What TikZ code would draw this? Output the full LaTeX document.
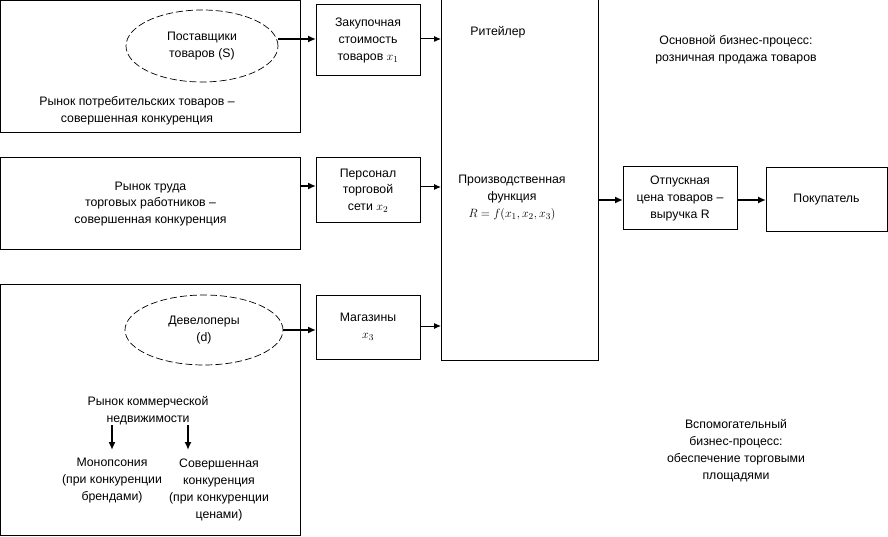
\documentclass[tikz,border=0pt]{standalone}
\usepackage{fontspec}
\setmainfont{Liberation Sans}
\usetikzlibrary{arrows.meta,shapes.geometric}
\begin{document}
\begin{tikzpicture}[x=1pt,y=-1pt,
  every node/.style={font=\fontsize{12.3}{16.8}\selectfont, align=center, inner sep=0pt, outer sep=0pt},
  box/.style={draw, line width=1pt, rectangle},
  ell/.style={draw, dash pattern=on 7pt off 3pt, line width=0.7pt, ellipse},
  thin arrow/.style={-{Latex[length=7pt,width=6pt]}, line width=1pt},
  thick arrow/.style={-{Latex[length=8pt,width=7pt]}, line width=2.2pt}]
\useasboundingbox (0,0) rectangle (888,537);
% left market boxes
\node[box, minimum width=300pt, minimum height=132pt] (m1) at (150.5,66.5) {};
\node[box, minimum width=300pt, minimum height=92pt] (m2) at (150.5,204) {};
\node[box, minimum width=300pt, minimum height=251pt] (m3) at (150.5,409.5) {};
% ellipses
\node[ell, minimum width=152pt, minimum height=72pt] (sup) at (202,46) {Поставщики\\товаров (S)};
\node[ell, minimum width=158pt, minimum height=70pt] (dev) at (204,330) {Девелоперы\\(d)};
\node (m1t) at (137,110.5) {Рынок потребительских товаров –\\совершенная конкуренция};
\node at (150.5,204) {Рынок труда\\торговых работников –\\совершенная конкуренция};
\node (cre) at (148,411) {Рынок коммерческой\\недвижимости};
\coordinate (a1s) at (112,425);
\coordinate (a2s) at (188,425);
\node (mon) at (112,480.5) {Монопсония\\(при конкуренции\\брендами)};
\node (perf) at (219,490) {Совершенная\\конкуренция\\(при конкуренции\\ценами)};
\draw[thick arrow, line width=1.8pt] (a1s) -- (112,450);
\draw[thick arrow, line width=1.8pt] (a2s) -- (188,450);
% resource boxes
\node[box, minimum width=104pt, minimum height=71pt] (x1) at (368,40.5) {Закупочная\\стоимость\\товаров $x_1$};
\node[box, minimum width=104pt, minimum height=65pt] (x2) at (368,190.5) {Персонал\\торговой\\сети $x_2$};
\node[box, minimum width=104pt, minimum height=64pt] (x3) at (368,327) {Магазины\\$x_3$};
% retailer
\node[box, minimum width=157pt, minimum height=361pt] (ret) at (519.5,180) {};
\node at (498,32) {Ритейлер};
\node at (512,198) {Производственная\\функция\\$R=f(x_1,x_2,x_3)$};
% right
\node[box, minimum width=114pt, minimum height=63pt] (price) at (680,198.5) {Отпускная\\цена товаров –\\выручка R};
\node[box, minimum width=121pt, minimum height=64pt] (buy) at (826.5,200) {Покупатель};
\node at (736,50) {Основной бизнес-процесс:\\розничная продажа товаров};
\node at (736,450.5) {Вспомогательный\\бизнес-процесс:\\обеспечение торговыми\\площадями};
% arrows
\draw[thick arrow] (sup.east |- 0,39) -- (x1.west |- 0,39);
\draw[thick arrow] (m2.east |- 0,186) -- (x2.west |- 0,186);
\draw[thick arrow] (dev.east |- 0,330) -- (x3.west |- 0,330);
\draw[thin arrow] (x1.east |- 0,39) -- (ret.west |- 0,39);
\draw[thin arrow] (x2.east |- 0,187) -- (ret.west |- 0,187);
\draw[thin arrow] (x3.east |- 0,326) -- (ret.west |- 0,326);
\draw[thick arrow] (ret.east |- 0,200) -- (price.west |- 0,200);
\draw[thick arrow] (price.east |- 0,200) -- (buy.west |- 0,200);
\end{tikzpicture}
\end{document}
